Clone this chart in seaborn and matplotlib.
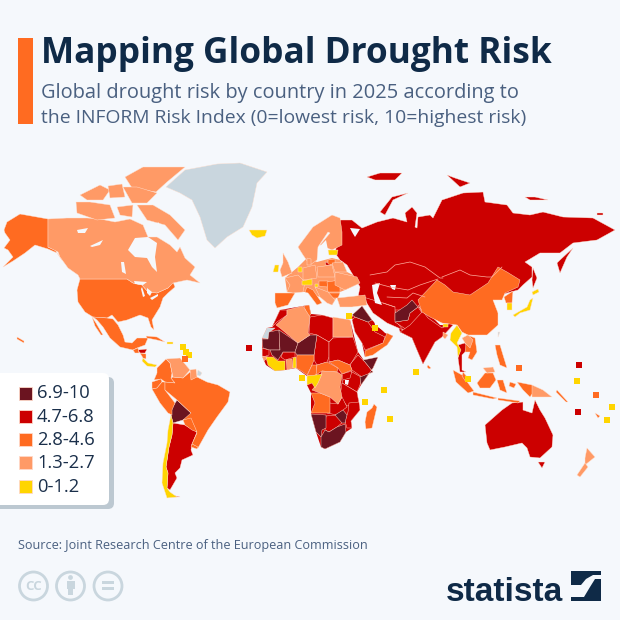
import matplotlib
matplotlib.use("Agg")
import matplotlib.pyplot as plt
from matplotlib.patches import Circle, FancyBboxPatch, Rectangle
import pandas as pd
import seaborn as sns

# colours of the risk classes
cores = {
    "dark": "#6b1420",
    "red": "#cc0000",
    "orange": "#ff6b21",
    "light": "#ff9a66",
    "yellow": "#ffd500",
    "grey": "#c9d6de",
}
fundo = "#f5f8fc"
azul = "#0f2a47"

legenda_labels = ["6.9-10", "4.7-6.8", "2.8-4.6", "1.3-2.7", "0-1.2"]
legenda_classes = ["dark", "red", "orange", "light", "yellow"]

# country outlines (x, y in picture pixels)
alaska = [(4,230),(7,222),(20,214),(48,219),(48,247),(55,250),(62,260),(57,253),(48,249),(35,245),(25,253),(13,261),(3,267),(13,257),(8,250),(4,248),(10,240),(5,233)]
canada = [(48,219),(67,218),(87,218),(100,219),(115,222),(130,219),(143,225),(148,237),(157,237),(170,245),(177,252),(180,247),(185,258),(195,267),(190,275),(200,283),(187,280),(173,283),(168,288),(157,293),(148,292),(142,285),(133,283),(127,279),(80,279),(78,275),(68,268),(60,257),(58,252),(48,247)]
ellesmere = [(125,177),(143,167),(185,167),(167,182),(156,192),(132,188)]
baffin = [(137,205),(153,205),(170,215),(185,230),(178,240),(165,225),(147,220)]
victoria = [(76,202),(90,202),(110,205),(115,218),(97,220),(77,213)]
banks = [(80,195),(100,185),(110,190),(103,200),(87,200)]
devon = [(123,187),(137,187),(157,193),(147,203),(132,203)]
melville = [(108,186),(122,184),(125,197),(110,198)]
somerset = [(117,207),(133,205),(132,217),(120,215)]
usa = [(80,279),(127,279),(133,283),(142,285),(148,292),(157,293),(168,288),(173,282),(175,287),(168,293),(163,298),(160,307),(152,320),(154,330),(151,327),(148,318),(140,315),(127,320),(118,322),(112,315),(107,318),(93,317),(85,312),(78,302),(77,290)]
mexico = [(93,317),(107,318),(113,319),(118,325),(123,335),(125,342),(132,343),(137,338),(148,338),(145,345),(137,348),(133,350),(120,347),(110,338),(103,327),(97,320)]
baja = [(92,317),(96,323),(103,335),(101,335),(95,326)]
guatemala = [(133,350),(138,348),(139,353),(135,353)]
honduras = [(138,350),(147,349),(145,353),(140,353)]
nicaragua = [(140,353),(146,354),(146,359),(143,358)]
panama = [(143,358),(148,363),(157,365),(155,367),(147,366),(142,361)]
cuba = [(146,336),(157,337),(165,342),(157,340),(147,338)]
hispaniola = [(167,342),(173,342),(173,344),(167,344)]
hawaii = [(17,337),(24,341),(24,343),(17,339)]
greenland = [(166,187),(185,170),(217,164),(240,163),(267,172),(257,183),(252,207),(243,227),(227,237),(215,248),(207,240),(200,217),(192,200),(180,193)]
iceland = [(249,230),(267,230),(265,236),(257,238),(252,235)]

colombia = [(157,368),(166,359),(170,363),(172,373),(171,378),(175,383),(165,382),(161,379),(154,380),(157,373)]
venezuela = [(166,359),(180,358),(190,370),(183,378),(173,377),(170,363)]
guyana = [(190,370),(196,369),(197,377),(191,380)]
guiana = [(198,370),(202,373),(200,376),(197,375)]
ecuador = [(152,382),(161,379),(162,382),(157,388),(152,389)]
peru = [(152,389),(157,388),(162,382),(165,382),(165,390),(175,403),(172,410),(172,415),(168,413),(160,403)]
brazil = [(165,382),(175,383),(171,378),(173,377),(183,378),(190,372),(197,377),(207,382),(218,385),(230,392),(228,402),(217,417),(208,430),(198,448),(192,444),(197,433),(191,420),(183,420),(191,413),(177,400),(165,390)]
bolivia = [(177,400),(191,413),(191,418),(183,420),(173,423),(171,415),(172,408)]
paraguay = [(183,420),(191,418),(197,432),(192,430),(185,425)]
uruguay = [(192,444),(198,447),(197,449),(191,447)]
argentina = [(173,423),(185,425),(197,432),(192,444),(191,450),(193,455),(182,460),(180,468),(175,473),(177,478),(170,490),(167,488),(168,473),(166,467),(169,447),(172,435)]
fuego = [(172,495),(180,497),(173,497)]
chile = [(171,415),(173,423),(172,435),(169,447),(166,467),(168,473),(167,488),(170,492),(177,497),(167,498),(162,483),(163,463),(167,443),(168,430)]

# whole landmasses laid under the countries, so that no gap shows between them
africa_base = [(272,327),(280,310),(303,306),(309,305),(311,314),(322,315),(333,318),(350,320),(358,352),(365,362),(378,357),(373,368),(361,385),(357,392),(359,403),(360,410),(351,421),(352,428),(346,432),(340,442),(325,449),(321,447),(316,432),(311,414),(311,393),(307,385),(307,376),(296,368),(285,370),(275,371),(266,365),(262,356),(262,339),(267,328)]
europa_base = [(285,278),(298,267),(307,258),(317,262),(332,258),(340,260),(347,272),(357,277),(360,283),(345,290),(340,292),(335,300),(332,305),(320,297),(305,292),(287,292)]
arabia_base = [(352,317),(362,306),(372,320),(385,333),(393,336),(387,345),(365,357),(362,343),(355,332)]
asia_sul_base = [(395,310),(420,305),(440,325),(453,325),(442,337),(435,342),(423,364),(417,350),(412,338),(400,332)]
bases = [("red", africa_base), ("light", europa_base), ("red", arabia_base), ("red", asia_sul_base)]

morocco = [(273,325),(280,310),(287,310),(287,315),(277,322),(272,327)]
w_sahara = [(262,338),(267,328),(275,328),(270,332),(268,339)]
algeria = [(287,310),(303,306),(310,317),(308,333),(310,335),(298,343),(280,328),(276,325),(287,315)]
tunisia = [(304,306),(309,305),(311,314),(308,318)]
libya = [(310,317),(322,315),(333,318),(333,338),(329,342),(317,335),(309,333)]
egypt = [(333,317),(350,320),(353,337),(333,337)]
mauritania = [(262,339),(268,339),(269,332),(279,330),(280,350),(270,350),(263,348)]
mali = [(279,330),(298,343),(295,352),(283,352),(278,360),(272,355),(270,350),(280,350)]
niger = [(298,343),(310,335),(317,335),(314,355),(297,355),(295,352)]
senegal = [(262,348),(269,350),(269,355),(263,357)]
guinea = [(262,356),(268,357),(264,361)]
burkina = [(283,352),(295,352),(295,357),(285,360),(281,357)]
ivory = [(266,357),(273,357),(278,361),(285,361),(285,370),(275,371),(268,365)]
ghana = [(286,360),(292,359),(293,368),(287,370)]
benin = [(293,358),(296,357),(296,368),(293,368)]
nigeria = [(297,355),(314,355),(314,360),(312,365),(307,375),(300,370),(296,368)]
chad = [(317,335),(329,342),(329,357),(327,362),(317,365),(314,360),(314,355)]
sudan = [(333,338),(353,337),(358,352),(352,362),(350,365),(338,360),(329,362),(329,342)]
cameroon = [(312,365),(317,365),(316,375),(307,376)]
car = [(317,365),(327,362),(338,368),(337,372),(322,371),(316,375)]
s_sudan = [(329,362),(338,360),(350,365),(352,370),(342,374),(338,368)]
ethiopia = [(352,362),(358,355),(365,362),(373,372),(362,377),(352,370),(350,365)]
somalia = [(363,360),(378,357),(373,368),(361,385),(360,377),(373,372),(365,362)]
kenya = [(352,372),(361,377),(360,385),(357,392),(342,383),(345,374)]
uganda = [(342,374),(352,371),(350,378),(343,380)]
gabon = [(307,376),(316,375),(322,374),(318,383),(315,388),(312,383),(307,385)]
drc = [(322,371),(337,372),(342,375),(340,387),(342,397),(338,404),(330,397),(320,393),(312,390),(318,383)]
tanzania = [(342,383),(357,392),(359,403),(347,406),(340,397)]
angola = [(311,393),(320,393),(330,397),(330,413),(311,413),(315,403)]
zambia = [(330,403),(338,404),(342,397),(347,407),(343,410),(337,415),(327,413)]
mozambique = [(349,403),(359,402),(360,410),(351,421),(352,428),(347,428),(345,421),(348,412)]
namibia = [(311,414),(326,415),(326,428),(322,430),(321,437),(316,432)]
botswana = [(326,416),(337,415),(343,422),(337,427),(329,432),(325,430)]
zimbabwe = [(335,415),(343,410),(347,415),(345,423),(342,423)]
s_africa = [(321,437),(325,430),(329,432),(337,427),(345,424),(346,432),(340,442),(325,449),(321,447)]
lesotho = [(336,436),(340,436),(340,440),(336,440)]
madagascar = [(374,404),(377,407),(372,428),(366,429),(365,422),(367,412),(372,408)]

eurasia = [(340,220),(352,220),(362,228),(377,222),(393,218),(407,222),(405,213),(412,207),(417,213),(415,227),(417,228),(418,217),(430,215),(433,218),(442,200),(463,193),(483,192),(485,202),(507,205),(513,213),(530,215),(543,212),(563,217),(593,218),(615,230),(597,240),(573,243),(560,253),(540,253),(525,262),(532,267),(532,277),(523,285),(518,290),(500,295),(450,300),(420,310),(395,310),(365,300),(358,297),(360,287),(356,280),(347,265),(340,260),(335,253),(338,240)]
novaya = [(380,212),(392,197),(408,193),(393,200),(385,215)]
kamchatka = [(560,260),(573,248),(567,257),(560,273),(557,263)]
sakhalin = [(533,268),(537,278),(533,288),(532,280)]
svalbard = [(367,177),(380,173),(402,173),(395,180),(375,180)]
franz_josef = [(447,175),(455,178),(470,183),(460,187)]
siberian = [(525,197),(535,197),(548,200),(530,200)]
wrangel = [(597,213),(603,213),(603,215),(597,215)]
turkey = [(337,298),(365,295),(367,305),(352,307),(340,307)]
saudi = [(352,320),(355,317),(368,322),(375,332),(385,337),(383,343),(365,350),(362,343),(355,332)]
oman = [(365,351),(383,343),(387,333),(393,336),(387,345),(373,355),(365,357)]
iraq = [(352,315),(362,306),(372,320),(368,322),(355,317)]
iran = [(363,297),(383,303),(395,307),(395,320),(403,330),(387,323),(373,313)]
afghanistan = [(395,313),(407,305),(412,300),(418,307),(410,313),(408,320),(395,322)]
pakistan = [(395,322),(408,320),(410,313),(418,307),(422,313),(417,320),(420,330),(407,330)]
india = [(418,305),(428,318),(442,328),(450,323),(453,325),(442,337),(435,342),(423,364),(417,350),(412,338),(400,332),(410,325),(422,312)]
sri_lanka = [(428,365),(431,368),(429,369),(427,367)]
china = [(418,300),(437,280),(445,285),(453,292),(470,295),(488,283),(498,267),(507,272),(520,280),(518,287),(505,293),(502,300),(493,300),(498,313),(498,325),(487,335),(475,335),(468,335),(462,332),(457,325),(442,323),(430,317),(422,312)]
kashmir = [(415,303),(421,305),(418,309),(414,307)]
myanmar = [(457,325),(462,333),(457,343),(461,350),(458,357),(457,347),(450,340),(451,333)]
bangladesh = [(443,332),(448,335),(445,339),(443,337)]
bhutan = [(443,324),(448,324),(448,327),(443,327)]
thailand = [(458,345),(465,343),(470,350),(465,352),(462,355),(462,370),(466,372),(460,372),(458,358),(460,350)]
laos = [(462,338),(468,335),(473,340),(470,348),(465,343)]
vietnam = [(467,335),(475,338),(477,352),(472,360),(468,358),(470,352),(465,352)]
n_korea = [(504,297),(513,291),(512,303),(506,303)]
s_korea = [(507,303),(512,303),(512,310),(507,310)]
honshu = [(530,300),(533,298),(530,310),(520,313),(515,317),(513,315),(527,307)]
hokkaido = [(532,292),(538,289),(539,292),(533,295)]
taiwan = [(498,332),(500,332),(498,337)]

scandinavia = [(298,247),(313,227),(332,215),(340,218),(342,232),(342,245),(332,250),(320,245),(330,233),(328,232),(318,247),(317,260),(310,265),(303,255)]
uk = [(283,253),(288,262),(292,273),(282,277),(280,270),(283,263)]
ireland = [(275,265),(279,265),(278,272),(273,272)]
denmark = [(307,258),(311,259),(311,265),(307,265)]
estonia = [(328,250),(338,250),(337,255),(329,255)]
latvia = [(328,260),(335,259),(335,265),(328,264)]
lithuania = [(325,262),(330,263),(330,266),(326,265)]
france = [(285,278),(298,275),(305,282),(303,292),(293,293),(287,292),(290,285)]
netherlands = [(298,267),(302,267),(302,272),(298,272)]
switzerland = [(302,281),(312,279),(312,285),(302,285)]
germany = [(303,268),(315,265),(317,278),(303,280)]
poland = [(317,267),(332,265),(335,277),(318,277)]
ukraine = [(335,272),(357,277),(360,283),(345,290),(335,285)]
belarus = [(332,263),(343,262),(347,272),(335,272)]
hungary = [(319,281),(328,281),(327,287),(319,286)]
romania = [(327,282),(340,280),(340,292),(328,292)]
moldova = [(337,280),(341,280),(340,286)]
italy = [(307,287),(313,290),(322,303),(317,305),(308,293),(305,292)]
balkans = [(315,287),(328,292),(335,300),(332,305),(327,303),(320,297)]
bulgaria = [(328,293),(340,293),(338,298),(330,298)]
spain = [(275,293),(295,293),(288,305),(277,308),(275,303)]
slovenia = [(315,284),(318,284),(318,287),(315,287)]

sumatra = [(453,370),(462,375),(474,391),(468,393),(456,382)]
java = [(473,392),(497,398),(493,399),(473,395)]
sunda = [(498,398),(520,401),(518,403),(498,400)]
kalimantan = [(477,383),(485,373),(493,373),(496,380),(490,388),(480,388)]
sabah = [(483,368),(493,367),(495,372),(487,373)]
sulawesi = [(497,380),(503,380),(507,393),(500,390)]
moluccas = [(510,382),(516,384),(514,388),(509,386)]
malaya = [(463,372),(468,378),(466,382),(462,376)]
philippines = [(495,345),(500,345),(503,355),(507,368),(500,365),(497,355)]
papua = [(517,382),(532,385),(535,390),(530,397),(523,390)]
png = [(532,385),(543,390),(552,397),(543,397),(532,397)]
solomon = [(557,390),(568,402),(566,402),(556,392)]
australia = [(485,425),(502,410),(512,403),(523,402),(523,410),(532,413),(535,400),(540,410),(545,418),(553,435),(552,447),(540,458),(530,457),(527,448),(522,443),(505,447),(490,450),(487,443)]
tasmania = [(538,462),(545,462),(542,468)]
nz_north = [(587,448),(595,457),(585,465),(585,458)]
nz_south = [(585,463),(577,475),(580,477),(588,467)]
fiji = [(595,413),(600,416),(598,418)]

# water painted on top of the land
hudson = [(128,250),(135,238),(148,237),(157,243),(155,257),(157,272),(152,267),(147,258),(135,257)]
foxe = [(158,222),(167,233),(163,238),(156,230)]
great_bear = [(77,230),(88,228),(85,233),(78,233)]
great_slave = [(90,246),(103,240),(100,245),(92,247)]
winnipeg = [(121,262),(124,262),(126,274),(122,272)]
superior = [(134,281),(147,282),(143,285),(135,284)]
michigan = [(142,287),(145,296),(143,297),(141,289)]
huron = [(147,288),(152,292),(150,296),(147,293)]
erie = [(150,298),(158,294),(158,296),(152,300)]
white_sea = [(350,228),(360,229),(355,237),(352,232)]
caspian = [(372,285),(380,283),(377,293),(382,305),(375,303),(373,293)]
aral = [(390,285),(396,285),(395,290),(392,289)]
victoria_lake = [(345,380),(349,380),(348,385),(345,384)]
baltic = [(320,246),(326,240),(328,250),(322,256)]
persian_gulf = [(373,315),(387,325),(385,332),(375,325)]

paises = [
    ("grey", [greenland, w_sahara, guiana, kashmir, taiwan]),
    ("red", [eurasia, novaya, kamchatka, sakhalin, svalbard, franz_josef, siberian, wrangel, morocco, honduras, argentina, fuego,
             libya, senegal, burkina, chad, sudan, ethiopia, kenya, uganda, tanzania, zambia, mozambique, botswana, lesotho,
             saudi, iran, pakistan, india, thailand, australia, tasmania, moldova, lithuania]),
    ("dark", [bolivia, mauritania, mali, niger, somalia, namibia, zimbabwe, s_africa, iraq, afghanistan]),
    ("orange", [alaska, usa, mexico, baja, guatemala, nicaragua, cuba, hawaii, colombia, ecuador, peru, brazil, paraguay, uruguay,
                tunisia, nigeria, cameroon, car, s_sudan, angola, madagascar, oman, sri_lanka, china, vietnam, n_korea,
                latvia, hungary, romania, italy, bulgaria, spain, sumatra, java, sunda, kalimantan, sulawesi, moluccas, malaya,
                philippines, papua, solomon, fiji]),
    ("light", [canada, ellesmere, baffin, victoria, banks, devon, melville, somerset, venezuela, guyana, algeria, egypt, guinea, ghana,
               drc, turkey, bangladesh, laos, scandinavia, uk, denmark, france, germany, poland, ukraine, belarus, balkans, sabah,
               png, nz_north, nz_south]),
    ("yellow", [iceland, panama, hispaniola, chile, ivory, benin, gabon, myanmar, bhutan, s_korea, honshu, hokkaido, ireland, estonia,
                netherlands, switzerland, slovenia]),
]
aguas = [hudson, foxe, great_bear, great_slave, winnipeg, superior, michigan, huron, erie, white_sea, caspian, aral, victoria_lake, baltic, persian_gulf]

# thin borders inside the red block
fronteira_kz_norte = [(370,275),(387,272),(395,265),(410,262),(425,267),(440,278),(443,278)]
fronteira_kz_sul = [(375,283),(390,287),(408,290),(420,285),(438,279)]
fronteira_mongolia = [(442,277),(460,270),(470,275),(487,277),(492,277),(502,267)]
fronteira_uz = [(387,297),(407,298),(413,293),(425,297)]
fronteira_iran = [(383,303),(395,307)]
fronteiras = [fronteira_kz_norte, fronteira_kz_sul, fronteira_mongolia, fronteira_uz, fronteira_iran]

# small island states drawn as squares
ilhas_x = [249, 579, 578, 416, 384, 365, 390, 468, 577, 612, 607, 302, 375, 349, 183, 186, 189, 519, 596, 185]
ilhas_y = [348, 365, 412, 372, 390, 402, 419, 379, 381, 407, 420, 378, 328, 316, 347, 352, 355, 368, 395, 359]
ilhas_classe = ["red", "red", "red", "yellow", "yellow", "yellow", "yellow", "yellow", "yellow", "yellow", "yellow",
                "yellow", "yellow", "yellow", "yellow", "yellow", "yellow", "orange", "orange", "orange"]

sns.set_style("white")
plt.rcParams["font.family"] = ["Open Sans", "DejaVu Sans"]

fig = plt.figure(figsize=(6.2, 6.2), dpi=100, facecolor=fundo)
ax = fig.add_axes([0, 0, 1, 1], facecolor=fundo)

# map
for classe, contorno in bases:
    xs, ys = zip(*contorno)
    ax.fill(xs, ys, facecolor=cores[classe], edgecolor="none", zorder=1)
for classe, contornos in paises:
    for contorno in contornos:
        xs, ys = zip(*contorno)
        ax.fill(xs, ys, facecolor=cores[classe], edgecolor="#ffe0d0", linewidth=0.3, joinstyle="round", zorder=2)
for contorno in aguas:
    xs, ys = zip(*contorno)
    ax.fill(xs, ys, facecolor=fundo, edgecolor="none", zorder=3)
for linha in fronteiras:
    xs, ys = zip(*linha)
    ax.plot(xs, ys, color="#ffb0a0", linewidth=0.5, zorder=3)

ilhas = pd.DataFrame({"x": ilhas_x, "y": ilhas_y, "classe": ilhas_classe})
sns.scatterplot(data=ilhas, x="x", y="y", hue="classe", palette=cores, marker="s", s=24, linewidth=0,
                legend=False, ax=ax, zorder=4)
ax.set_xlim(0, 620)
ax.set_ylim(620, 0)
ax.axis("off")

# header
ax.add_patch(Rectangle((18, 38), 15, 86, facecolor=cores["orange"], edgecolor="none"))
ax.text(41, 63, "Mapping Global Drought Risk", fontsize=25.4, fontweight="bold", color=azul, va="baseline")
ax.text(41, 98, "Global drought risk by country in 2025 according to", fontsize=14.4, color="#4a6080", va="baseline")
ax.text(41, 123, "the INFORM Risk Index (0=lowest risk, 10=highest risk)", fontsize=13.9, color="#4a6080", va="baseline")

# legend box
ax.add_patch(FancyBboxPatch((-20, 377), 134, 132, boxstyle="round,pad=0,rounding_size=6", facecolor="#bcc8d1", edgecolor="none", zorder=5))
ax.add_patch(FancyBboxPatch((-20, 373), 129, 132, boxstyle="round,pad=0,rounding_size=6", facecolor="white", edgecolor="none", zorder=6))
for i, (rotulo, classe) in enumerate(zip(legenda_labels, legenda_classes)):
    y = 393 + i * 23.3
    ax.add_patch(Rectangle((19, y - 6.5), 13, 13, facecolor=cores[classe], edgecolor="#ffd8c8", linewidth=0.6, zorder=7))
    ax.text(37, y + 0.3, rotulo, fontsize=13.2, color="#1a2f4a", va="center", zorder=7)

# source and licence icons
ax.text(18, 549, "Source: Joint Research Centre of the European Commission", fontsize=9.1, color="#4a6080", va="baseline")
cinza = cores["grey"]
for cx in [33.5, 70.5, 108]:
    ax.add_patch(Circle((cx, 586), 14, facecolor="none", edgecolor=cinza, linewidth=2))
ax.text(33.5, 586, "CC", fontsize=9.5, fontweight="bold", color=cinza, ha="center", va="center")
ax.add_patch(Circle((70.5, 577.5), 2.4, facecolor=cinza, edgecolor="none"))
ax.add_patch(Rectangle((66.5, 581), 8, 8, facecolor=cinza, edgecolor="none"))
ax.add_patch(Rectangle((68, 588), 5, 7, facecolor=cinza, edgecolor="none"))
ax.add_patch(Rectangle((102, 581), 12, 3, facecolor=cinza, edgecolor="none"))
ax.add_patch(Rectangle((102, 587), 12, 3, facecolor=cinza, edgecolor="none"))

# statista logo
ax.text(446, 601, "statista", fontsize=24, fontweight="bold", family=["Liberation Sans", "DejaVu Sans"],
        color=azul, va="baseline")
ax.add_patch(Rectangle((571, 571), 30, 30, facecolor=azul, edgecolor="none"))
ax.fill([571, 581, 586, 593, 601, 601, 595, 590, 584, 571], [585, 585, 579, 575, 575, 579, 579, 587, 597, 597], facecolor=fundo, edgecolor="none")

fig.savefig("out.png", dpi=100, facecolor=fundo)
